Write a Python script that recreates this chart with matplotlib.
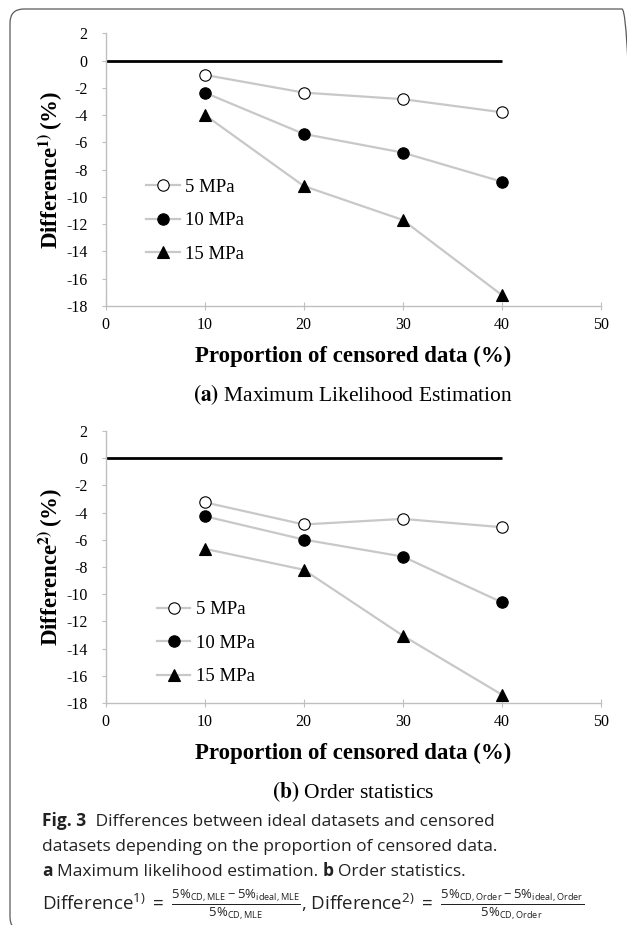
import matplotlib
matplotlib.use("Agg")
import matplotlib.pyplot as plt
from matplotlib.patches import FancyBboxPatch
from matplotlib.transforms import IdentityTransform

plt.rcParams["font.family"] = "Liberation Serif"
plt.rcParams["axes.unicode_minus"] = False
plt.rcParams["mathtext.fontset"] = "custom"
plt.rcParams["mathtext.rm"] = "Open Sans"
plt.rcParams["mathtext.it"] = "Open Sans:italic"
plt.rcParams["mathtext.bf"] = "Open Sans:bold"

# censored data proportion (%) and pressure groups
proportion = [10, 20, 30, 40]
pressures = ["5 MPa", "10 MPa", "15 MPa"]

# (a) maximum likelihood estimation, difference (%)
mle_5 = [-1.05, -2.35, -2.83, -3.79]
mle_10 = [-2.35, -5.38, -6.75, -8.88]
mle_15 = [-3.98, -9.20, -11.69, -17.19]

# (b) order statistics, difference (%)
order_5 = [-3.24, -4.87, -4.46, -5.07]
order_10 = [-4.26, -5.98, -7.23, -10.59]
order_15 = [-6.66, -8.20, -13.04, -17.38]

x_ticks = [0, 10, 20, 30, 40, 50]
y_ticks = [2, 0, -2, -4, -6, -8, -10, -12, -14, -16, -18]
zero_span = [0, 40]

LINE_GRAY = "#c8c8c8"
SPINE_GRAY = "#bfbfbf"
CAP_SIZE = 12.5


def draw_panel(ax, series, ylabel, leg_xy):
    ax.hlines(0, zero_span[0], zero_span[1], color="black", lw=2.0, zorder=2)
    faces = ["white", "black", "black"]
    markers = ["o", "o", "^"]
    for vals, name, fc, mk in zip(series, pressures, faces, markers):
        ax.plot(proportion, vals, color=LINE_GRAY, lw=1.6, marker=mk, ms=8.2,
                mfc=fc, mec="black", mew=0.8, label=name, zorder=3)

    ax.set_xlim(0, 50)
    ax.set_ylim(-18, 2)
    ax.set_xticks(x_ticks)
    ax.set_yticks(y_ticks)
    for s in ["top", "right"]:
        ax.spines[s].set_visible(False)
    for s in ["left", "bottom"]:
        ax.spines[s].set_color(SPINE_GRAY)
        ax.spines[s].set_linewidth(1.0)
    ax.tick_params(axis="y", direction="out", length=3, color=SPINE_GRAY,
                   labelsize=11.5, pad=10)
    ax.tick_params(axis="x", direction="inout", length=6, color=SPINE_GRAY,
                   labelsize=11.5, pad=5)

    ax.set_xlabel("Proportion of censored data (%)", fontsize=16.5, fontweight="bold")
    ax.xaxis.set_label_coords(0.5, -0.145)
    ax.set_ylabel(ylabel, fontsize=16.5, fontweight="bold", math_fontfamily="stix")
    ax.yaxis.set_label_coords(-0.082, 0.5)

    ax.legend(loc="upper left", bbox_to_anchor=leg_xy, frameon=False, fontsize=13.5,
              borderpad=0, borderaxespad=0, labelspacing=0.88, handlelength=1.8,
              handletextpad=0.3)


def caption_line(ax, x, y, parts):
    # chain bold / regular pieces one after another on the same line
    prev = None
    for s, weight in parts:
        kw = dict(fontsize=CAP_SIZE, family="Open Sans", fontweight=weight, color="#222222")
        if prev is None:
            prev = ax.figure.text(x, y, s, ha="left", va="baseline", **kw)
        else:
            prev = ax.annotate(s, xy=(1, 0), xycoords=prev, xytext=(3.3, 0),
                               textcoords="offset points", ha="left", va="bottom",
                               annotation_clip=False, **kw)


fig = plt.figure(figsize=(6.27, 9.25), dpi=100)

ax_a = fig.add_axes([0.1686, 0.6692, 0.7895, 0.2948])
draw_panel(ax_a, [mle_5, mle_10, mle_15], r"Difference$^{\mathbf{1)}}\,$(%)", (0.081, 0.467))

ax_b = fig.add_axes([0.1686, 0.2400, 0.7895, 0.2940])
draw_panel(ax_b, [order_5, order_10, order_15], r"Difference$^{\mathbf{2)}}\,$(%)", (0.103, 0.375))

fig.text(0.563, 0.573, r"$\mathbf{(a)}$ Maximum Likelihood Estimation", fontsize=15.5,
         ha="center", va="center", math_fontfamily="stix")
fig.text(0.563, 0.144, r"$\mathbf{(b)}$ Order statistics", fontsize=15.5,
         ha="center", va="center", math_fontfamily="stix")

# caption block
cap_x = 0.067
caption_line(ax_b, cap_x, 1 - 826 / 925,
             [("Fig. 3", "bold"), (" Differences between ideal datasets and censored", "normal")])
caption_line(ax_b, cap_x, 1 - 851 / 925,
             [("datasets depending on the proportion of censored data.", "normal")])
caption_line(ax_b, cap_x, 1 - 876 / 925,
             [("a", "bold"), ("Maximum likelihood estimation.", "normal"),
              ("b", "bold"), ("Order statistics.", "normal")])
fig.text(cap_x, 1 - 905 / 925,
         r"Difference$^{1)}$ $=$ $\frac{5\%_{\mathrm{CD,MLE}}-5\%_{\mathrm{ideal,MLE}}}{5\%_{\mathrm{CD,MLE}}}$"
         r", Difference$^{2)}$ $=$ $\frac{5\%_{\mathrm{CD,Order}}-5\%_{\mathrm{ideal,Order}}}{5\%_{\mathrm{CD,Order}}}$",
         fontsize=13.5, family="Open Sans", color="#222222", ha="left", va="center")

# rounded frame around the whole figure
frame = FancyBboxPatch((10, -6), 626, 922, boxstyle="round,pad=0,rounding_size=14",
                       transform=IdentityTransform(), fill=False, ec="#5a5a5a", lw=0.9)
fig.add_artist(frame)

fig.savefig("out.png", dpi=100)
